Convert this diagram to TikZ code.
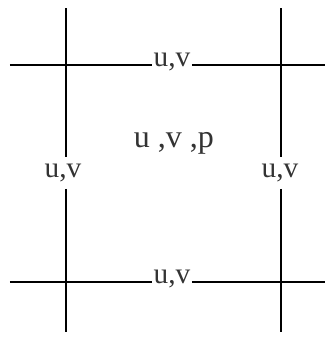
\documentclass[tikz,border=0pt]{standalone}
\usepackage{fontspec}
\setmainfont{Liberation Serif}

\begin{document}
\begin{tikzpicture}[x=0.75pt, y=-0.75pt,
    every node/.style={font=\fontsize{22}{22}\selectfont, text=black!80},
    gridline/.style={line width=2.2pt, black},
    vel/.style={inner sep=1pt},
    velv/.style={inner sep=5pt}]
  \useasboundingbox (0,0) rectangle (331,337);

  % end points of the grid lines
  \coordinate (TL) at (10,65);   \coordinate (TR) at (325,65);
  \coordinate (BL) at (10,282);  \coordinate (BR) at (325,282);
  \coordinate (LT) at (66,8);    \coordinate (LB) at (66,332);
  \coordinate (RT) at (281,8);   \coordinate (RB) at (281,332);

  % velocity labels on the cell faces
  \node[vel]  (top)    at (172,62)  {u,v};
  \node[vel]  (bottom) at (172,279) {u,v};
  \node[velv] (left)   at (63,173)  {u,v};
  \node[velv] (right)  at (280,173) {u,v};

  % cell centre
  \node[font=\fontsize{24}{24}\selectfont] (centre) at (174,143) {u ,v ,p};

  % grid lines, broken by the face labels
  \draw[gridline] (TL) -- (TL -| top.west) (TR -| top.east) -- (TR);
  \draw[gridline] (BL) -- (BL -| bottom.west) (BR -| bottom.east) -- (BR);
  \draw[gridline] (LT) -- (LT |- left.north) (LB |- left.south) -- (LB);
  \draw[gridline] (RT) -- (RT |- right.north) (RB |- right.south) -- (RB);
\end{tikzpicture}
\end{document}
